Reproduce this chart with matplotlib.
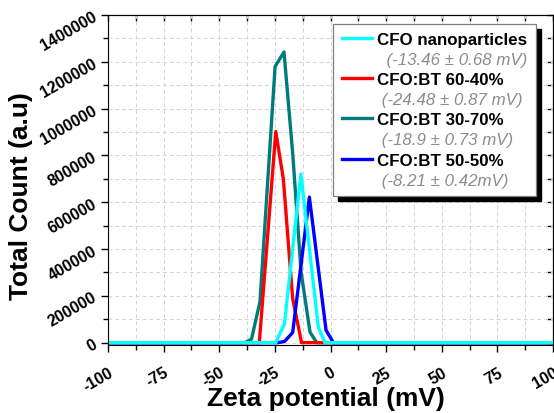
import matplotlib
matplotlib.use("Agg")
import matplotlib.pyplot as plt
from matplotlib.lines import Line2D
from matplotlib.patches import Rectangle
from matplotlib.ticker import MultipleLocator

plt.rcParams['font.family'] = ['Liberation Sans', 'DejaVu Sans']

# zeta potential distributions
cfo_x = [-100, -24.6, -20.7, -13.3, -5.5, -2.5, 100]
cfo_y = [0, 0, 81000, 721000, 68000, 0, 0]

bt6040_x = [-100, -32, -24.6, -21.2, -17, -13, 100]
bt6040_y = [0, 0, 902000, 700000, 188000, 0, 0]

bt3070_x = [-100, -38.5, -35.5, -31.7, -24.9, -20.9, -17, -13.2, -9.2, -6.2, 100]
bt3070_y = [0, 0, 15000, 175000, 1180000, 1242000, 810000, 300000, 45000, 0, 0]

bt5050_x = [-100, -23.5, -20.7, -17, -9.5, -2, 1.3, 100]
bt5050_y = [0, 0, 5000, 43000, 622000, 53000, 0, 0]

labels = ['CFO nanoparticles', 'CFO:BT 60-40%', 'CFO:BT 30-70%', 'CFO:BT 50-50%']
zeta_txt = ['  (-13.46 \u00b1 0.68 mV)', ' (-24.48 \u00b1 0.87 mV)',
            ' (-18.9 \u00b1 0.73 mV)', ' (-8.21 \u00b1 0.42mV)']
colors = ['#00ffff', '#ff0000', '#007b7b', '#0000ff']

xticks = [-100, -75, -50, -25, 0, 25, 50, 75, 100]
yticks = list(range(0, 1400001, 200000))

fig, ax = plt.subplots(figsize=(5.54, 4.14), dpi=100)
fig.subplots_adjust(left=108/554, right=553/554, top=1-16/414, bottom=1-346/414)

lw = 2.4
l_teal, = ax.plot(bt3070_x, bt3070_y, color=colors[2], lw=lw)
l_red, = ax.plot(bt6040_x, bt6040_y, color=colors[1], lw=lw)
l_blue, = ax.plot(bt5050_x, bt5050_y, color=colors[3], lw=lw)
l_cyan, = ax.plot(cfo_x, cfo_y, color=colors[0], lw=lw)

ax.set_xlim(-100, 100)
ax.set_ylim(-10000, 1400000)
ax.set_xticks(xticks)
ax.set_yticks(yticks)
ax.xaxis.set_minor_locator(MultipleLocator(12.5))
ax.yaxis.set_minor_locator(MultipleLocator(100000))
ax.grid(True, which='both', color='#d4d4d4', ls=(0, (4, 3)), lw=0.7)
ax.set_axisbelow(True)

ax.tick_params(which='both', direction='out', width=1.0)
ax.tick_params(which='major', length=5)
ax.tick_params(which='minor', length=3.5)

# ticks pointing inward on the top and right frame
top = ax.secondary_xaxis('top')
top.set_xticks(xticks, labels=[])
top.xaxis.set_minor_locator(MultipleLocator(12.5))
top.tick_params(which='both', direction='in', length=4, width=1.0)
right = ax.secondary_yaxis('right')
right.set_yticks(yticks, labels=[])
right.yaxis.set_minor_locator(MultipleLocator(100000))
right.tick_params(which='both', direction='in', length=4, width=1.0)

ax.set_xticklabels([str(v) for v in xticks], rotation=30, ha='right', va='top',
                   rotation_mode='anchor', fontsize=11.5, fontweight='bold')
ax.tick_params(axis='x', pad=9)
ax.set_yticklabels([str(v) for v in yticks], rotation=30, ha='right', va='center',
                   rotation_mode='anchor', fontsize=11.5, fontweight='bold')
ax.tick_params(axis='y', pad=4)

ax.set_xlabel('Zeta potential (mV)', fontsize=19, fontweight='bold')
ax.xaxis.set_label_coords(0.49, -0.125)
ax.set_ylabel('Total Count (a.u)', fontsize=19, fontweight='bold')
ax.yaxis.set_label_coords(-0.168, 0.455)

# legend: sample name + zeta value underneath
blank = Line2D([], [], ls='none')
handles = [l_cyan, blank, l_red, blank, l_teal, blank, l_blue, blank]
leg_labels = [labels[0], zeta_txt[0], labels[1], zeta_txt[1],
              labels[2], zeta_txt[2], labels[3], zeta_txt[3]]
leg = ax.legend(handles, leg_labels, loc='upper right', bbox_to_anchor=(0.962, 0.974),
                fancybox=False, framealpha=1, edgecolor='#808080', fontsize=12.2,
                handlelength=1.8, handletextpad=0.3, labelspacing=0.3,
                borderpad=0.5, borderaxespad=0)
leg.get_frame().set_linewidth(0.9)
for i, t in enumerate(leg.get_texts()):
    if i % 2 == 0:
        t.set_fontweight('bold')
    else:
        t.set_fontstyle('italic')
        t.set_color('#8c8c8c')
leg.set_zorder(6)

# black drop shadow behind the legend box
fig.canvas.draw()
bb = leg.get_window_extent().transformed(ax.transAxes.inverted())
dx = 5 / ax.bbox.width
dy = 5 / ax.bbox.height
ax.add_patch(Rectangle((bb.x0 + dx, bb.y0 - dy), bb.width, bb.height,
                       transform=ax.transAxes, color='black', zorder=5.5, clip_on=False))

fig.savefig('out.png', dpi=100)
